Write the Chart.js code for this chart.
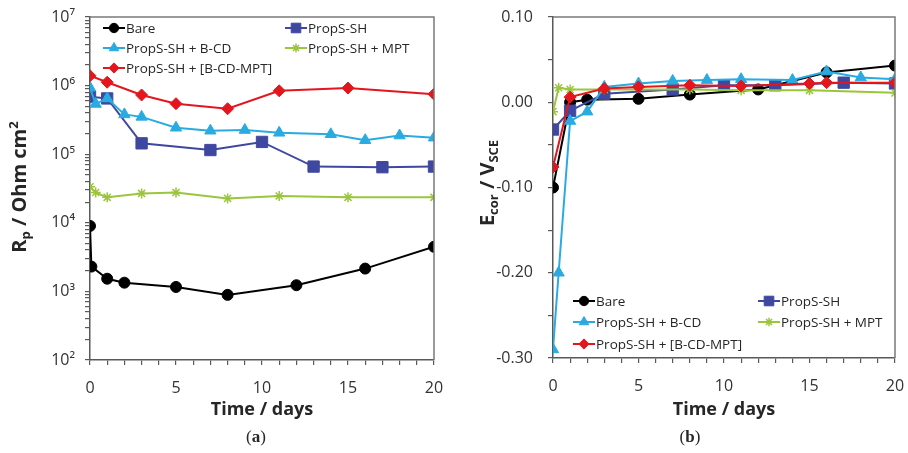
<!DOCTYPE html>
<html lang="en">
<head>
<meta charset="UTF-8">
<title>Rp and Ecor vs time</title>
<script src="https://cdn.jsdelivr.net/npm/chart.js"></script>
<style>
  body { margin: 0; background: #fff; }
  .box { position: absolute; top: 0; height: 453px; }
</style>
</head>
<body>
<div class="box" style="left:0;width:460px"><canvas id="chartA" width="460" height="453"></canvas></div>
<div class="box" style="left:460px;width:448px"><canvas id="chartB" width="448" height="453"></canvas></div>
<script>
// series names / colours
const names = ['Bare', 'PropS-SH', 'PropS-SH + B-CD', 'PropS-SH + MPT', 'PropS-SH + [B-CD-MPT]'];
const colors = ['#000000', '#3f48a0', '#29abe2', '#9bc53d', '#e3161e'];
const markers = ['circle', 'rect', 'triangle', 'star', 'rectRot'];
const markerSize = [5.5, 8, 6.5, 5, 6];

// (a) Rp, Ohm cm2
const rpBareDays = [0, 0.08, 1, 2, 5, 8, 12, 16, 20];
const rpBare = [9000, 2300, 1530, 1340, 1160, 890, 1230, 2150, 4470];
const rpPropDays = [0, 1, 3, 7, 10, 13, 17, 20];
const rpProp = [690000, 650000, 144000, 115000, 151000, 66000, 64600, 66000];
const rpCdDays = [0, 0.33, 1, 2, 3, 5, 7, 9, 11, 14, 16, 18, 20];
const rpCd = [930000, 540000, 650000, 380000, 350000, 243000, 220000, 225000, 205000, 195000, 160000, 187000, 174000];
const rpMptDays = [0, 0.33, 1, 3, 5, 8, 11, 15, 20];
const rpMpt = [33600, 27600, 23500, 26800, 27600, 22700, 24600, 23500, 23500];
const rpCdMptDays = [0, 1, 3, 5, 8, 11, 15, 20];
const rpCdMpt = [1390000, 1120000, 730000, 545000, 460000, 840000, 920000, 750000];

// (b) Ecor, V vs SCE
const ecBareDays = [0, 1, 2, 5, 8, 12, 16, 20];
const ecBare = [-0.100, 0.000, 0.003, 0.004, 0.009, 0.015, 0.035, 0.043];
const ecPropDays = [0, 1, 3, 7, 10, 13, 17, 20];
const ecProp = [-0.032, -0.010, 0.010, 0.015, 0.020, 0.020, 0.023, 0.022];
const ecCdDays = [0, 0.33, 1, 2, 3, 5, 7, 9, 11, 14, 16, 18, 20];
const ecCd = [-0.290, -0.200, -0.022, -0.011, 0.018, 0.022, 0.025, 0.026, 0.027, 0.026, 0.036, 0.029, 0.027];
const ecMptDays = [0, 0.33, 1, 3, 8, 11, 15, 20];
const ecMpt = [-0.011, 0.017, 0.015, 0.015, 0.015, 0.014, 0.014, 0.011];
const ecCdMptDays = [0, 1, 3, 5, 8, 11, 15, 16, 20];
const ecCdMpt = [-0.076, 0.006, 0.016, 0.018, 0.020, 0.019, 0.022, 0.023, 0.023];

const xTickLabels = [0, 5, 10, 15, 20];
const rpDecades = [2, 3, 4, 5, 6, 7];
const ecTickLabels = [-0.30, -0.20, -0.10, 0.00, 0.10];

const FONT = "'Open Sans', sans-serif";
const sup = ['⁰', '¹', '²', '³', '⁴', '⁵', '⁶', '⁷', '⁸', '⁹'];

function makeSets(dayLists, valLists) {
  return names.map((n, i) => ({
    label: n,
    data: dayLists[i].map((d, j) => ({ x: d, y: valLists[i][j] })),
    borderColor: colors[i],
    backgroundColor: colors[i],
    borderWidth: 2,
    pointStyle: markers[i],
    pointRadius: markerSize[i],
    pointBorderWidth: i === 3 ? 1.5 : 1,
    pointBorderColor: colors[i],
    pointBackgroundColor: colors[i],
    order: 5 - i
  }));
}

// draw text made of normal / sub / sup pieces, centred on x
function rich(ctx, parts, size, bold, x, y) {
  const f = (m) => (bold ? 'bold ' : '') + (m ? size * 0.65 : size) + 'px ' + FONT;
  let w = 0;
  parts.forEach(p => { ctx.font = f(p[1]); w += ctx.measureText(p[0]).width; });
  let cx = x - w / 2;
  ctx.textAlign = 'left';
  ctx.textBaseline = 'middle';
  parts.forEach(p => {
    ctx.font = f(p[1]);
    const dy = p[1] === 1 ? size * 0.3 : p[1] === 2 ? -size * 0.3 : 0;
    ctx.fillText(p[0], cx, y + dy);
    cx += ctx.measureText(p[0]).width;
  });
}

function decorPlugin(o) {
  return {
    id: 'decor',
    afterDraw(chart) {
      const ctx = chart.ctx, a = chart.chartArea;
      ctx.save();
      // top and right frame
      ctx.strokeStyle = '#7a7a7a';
      ctx.lineWidth = 1.5;
      ctx.beginPath();
      ctx.moveTo(a.left, a.top);
      ctx.lineTo(a.right, a.top);
      ctx.lineTo(a.right, a.bottom);
      ctx.stroke();

      ctx.fillStyle = '#262626';
      // y title
      ctx.save();
      ctx.translate(o.yTitleX, o.yTitleY);
      ctx.rotate(-Math.PI / 2);
      rich(ctx, o.yTitle, 20, true, 0, 0);
      ctx.restore();
      // x title
      rich(ctx, [['Time / days', 0]], 18, true, (a.left + a.right) / 2, 410);
      // panel letter
      ctx.font = "17px 'Liberation Serif', serif";
      ctx.textBaseline = 'middle';
      ctx.textAlign = 'left';
      const w1 = ctx.measureText('(').width;
      ctx.font = "bold 17px 'Liberation Serif', serif";
      const w2 = ctx.measureText(o.letter).width;
      let lx = o.letterX - (2 * w1 + w2) / 2;
      ctx.font = "17px 'Liberation Serif', serif";
      ctx.fillText('(', lx, 438);
      ctx.font = "bold 17px 'Liberation Serif', serif";
      ctx.fillText(o.letter, lx + w1, 438);
      ctx.font = "17px 'Liberation Serif', serif";
      ctx.fillText(')', lx + w1 + w2, 438);

      // legend, two columns
      chart.data.datasets.forEach((ds, idx) => {
        const x0 = o.legendX[idx % 2], y0 = o.legendY[Math.floor(idx / 2)];
        ctx.strokeStyle = ds.borderColor;
        ctx.lineWidth = 2;
        ctx.beginPath();
        ctx.moveTo(x0, y0);
        ctx.lineTo(x0 + 22, y0);
        ctx.stroke();
        ctx.fillStyle = ds.backgroundColor;
        ctx.lineWidth = ds.pointBorderWidth;
        Chart.helpers.drawPoint(ctx, { pointStyle: ds.pointStyle, radius: ds.pointRadius * 0.85, borderWidth: ds.pointBorderWidth, rotation: 0 }, x0 + 11, y0);
        ctx.fillStyle = '#262626';
        ctx.font = '13.5px ' + FONT;
        ctx.textAlign = 'left';
        ctx.textBaseline = 'middle';
        ctx.fillText(ds.label, x0 + 23, y0 + 1);
      });
      ctx.restore();
    }
  };
}

const axisCommon = {
  grid: { drawOnChartArea: false, drawTicks: true, tickLength: 5, color: '#595959', lineWidth: 1.2 },
  border: { display: true, color: '#595959', width: 1.5 }
};

// fixed axis sizes, no label-driven padding
function fixSize(prop, size) {
  return s => {
    s[prop] = size;
    s.paddingLeft = s.paddingRight = s.paddingTop = s.paddingBottom = 0;
  };
}

function xAxis(h) {
  return Object.assign({}, axisCommon, {
    type: 'linear', min: 0, max: 20,
    afterFit: fixSize('height', h),
    ticks: {
      stepSize: 1, autoSkip: false, maxRotation: 0, padding: 14,
      color: '#333', font: { family: FONT, size: 16 },
      callback: v => xTickLabels.includes(v) ? String(v) : ''
    }
  });
}

// chart (a)
const rpTicks = [];
rpDecades.forEach(e => {
  for (let m = 1; m <= (e === 7 ? 1 : 9); m++) rpTicks.push(m * Math.pow(10, e));
});

new Chart(document.getElementById('chartA'), {
  type: 'line',
  data: { datasets: makeSets([rpBareDays, rpPropDays, rpCdDays, rpMptDays, rpCdMptDays], [rpBare, rpProp, rpCd, rpMpt, rpCdMpt]) },
  options: {
    responsive: false, animation: false,
    layout: { padding: { top: 17, right: 26, left: 0, bottom: 0 } },
    plugins: { legend: { display: false }, tooltip: { enabled: false } },
    scales: {
      x: xAxis(93),
      y: Object.assign({}, axisCommon, {
        type: 'logarithmic', min: 100, max: 1e7,
        afterFit: fixSize('width', 90),
        afterBuildTicks: s => { s.ticks = rpTicks.map(v => ({ value: v })); },
        ticks: {
          autoSkip: false, padding: 10, color: '#333', font: { family: FONT, size: 16 },
          callback: v => {
            const e = Math.round(Math.log10(v));
            return Math.abs(Math.pow(10, e) - v) < 1e-6 ? '10' + sup[e] : '';
          }
        }
      })
    }
  },
  plugins: [decorPlugin({
    yTitle: [['R', 0], ['p', 1], [' / Ohm cm', 0], ['2', 2]], yTitleX: 20, yTitleY: 187,
    letter: 'a', letterX: 256,
    legendX: [103, 285], legendY: [28, 48, 68]
  })]
});

// chart (b)
new Chart(document.getElementById('chartB'), {
  type: 'line',
  data: { datasets: makeSets([ecBareDays, ecPropDays, ecCdDays, ecMptDays, ecCdMptDays], [ecBare, ecProp, ecCd, ecMpt, ecCdMpt]) },
  options: {
    responsive: false, animation: false,
    layout: { padding: { top: 17, right: 13, left: 0, bottom: 0 } },
    plugins: { legend: { display: false }, tooltip: { enabled: false } },
    scales: {
      x: xAxis(95),
      y: Object.assign({}, axisCommon, {
        type: 'linear', min: -0.3, max: 0.1,
        afterFit: fixSize('width', 93),
        ticks: {
          stepSize: 0.05, autoSkip: false, padding: 15, color: '#333', font: { family: FONT, size: 16 },
          callback: v => {
            const hit = ecTickLabels.find(t => Math.abs(t - v) < 1e-6);
            return hit === undefined ? '' : hit.toFixed(2);
          }
        }
      })
    }
  },
  plugins: [decorPlugin({
    yTitle: [['E', 0], ['cor', 1], [' / V', 0], ['SCE', 1]], yTitleX: 28, yTitleY: 183,
    letter: 'b', letterX: 230,
    legendX: [113, 298], legendY: [301, 322, 344]
  })]
});
</script>
</body>
</html>
